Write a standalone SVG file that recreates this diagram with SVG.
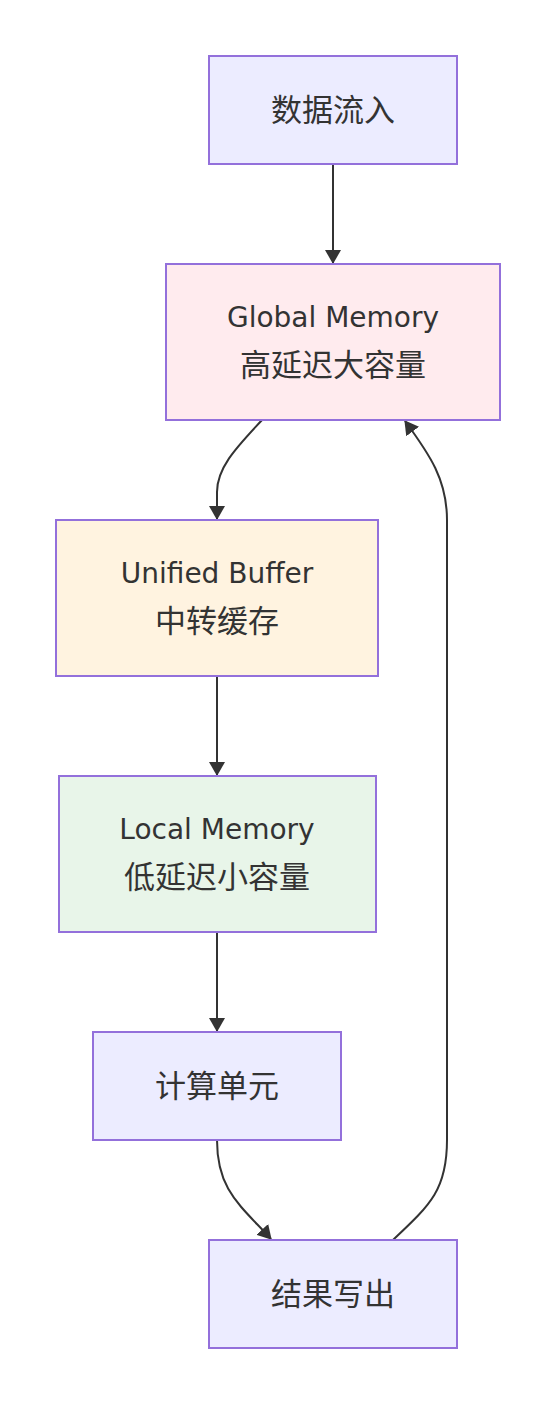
<svg xmlns="http://www.w3.org/2000/svg" width="555" height="1404" viewBox="0 0 555 1404">
<style>
.n{stroke:#9370DB;stroke-width:2}
.d{fill:#ECECFF}
.lat{font-family:"DejaVu Sans","Noto Sans",sans-serif;font-size:28px;fill:#333;text-anchor:middle;dominant-baseline:central}
.cjk{font-family:"Noto Sans CJK SC",sans-serif;font-size:31px;fill:#333;text-anchor:middle;dominant-baseline:central}
.e{fill:none;stroke:#333;stroke-width:2}
</style>
<defs>
<marker id="ah" viewBox="0 0 14 16" refX="13" refY="8" markerWidth="14" markerHeight="16" markerUnits="userSpaceOnUse" orient="auto">
<path d="M0,0 L14,8 L0,16 z" fill="#333"/>
</marker>
</defs>
<rect width="555" height="1404" fill="#fff"/>
<g id="edges">
<path class="e" d="M333,164 L333,263" marker-end="url(#ah)"/>
<path class="e" d="M262,420 C240,444 217,466 217,492 L217,519" marker-end="url(#ah)"/>
<path class="e" d="M217,676 L217,775" marker-end="url(#ah)"/>
<path class="e" d="M217,932 L217,1031" marker-end="url(#ah)"/>
<path class="e" d="M217,1140 C217,1190 240,1205 271,1239" marker-end="url(#ah)"/>
<path class="e" d="M393,1240 C430,1205 447,1190 447,1140 L447,520 C447,480 430,455 405,421" marker-end="url(#ah)"/>
</g>
<g id="n1"><rect class="n d" x="209" y="56" width="248" height="108"/><text class="cjk" x="333" y="107">数据流入</text></g>
<g id="n2"><rect class="n" fill="#FFEBEE" x="166" y="264" width="334" height="156"/><text class="lat" x="333" y="317">Global Memory</text><text class="cjk" x="333" y="362">高延迟大容量</text></g>
<g id="n3"><rect class="n" fill="#FFF3E0" x="56" y="520" width="322" height="156"/><text class="lat" x="217" y="573">Unified Buffer</text><text class="cjk" x="217" y="618">中转缓存</text></g>
<g id="n4"><rect class="n" fill="#E8F5E9" x="59" y="776" width="317" height="156"/><text class="lat" x="217" y="829">Local Memory</text><text class="cjk" x="217" y="874">低延迟小容量</text></g>
<g id="n5"><rect class="n d" x="93" y="1032" width="248" height="108"/><text class="cjk" x="217" y="1083">计算单元</text></g>
<g id="n6"><rect class="n d" x="209" y="1240" width="248" height="108"/><text class="cjk" x="333" y="1291">结果写出</text></g>
</svg>
